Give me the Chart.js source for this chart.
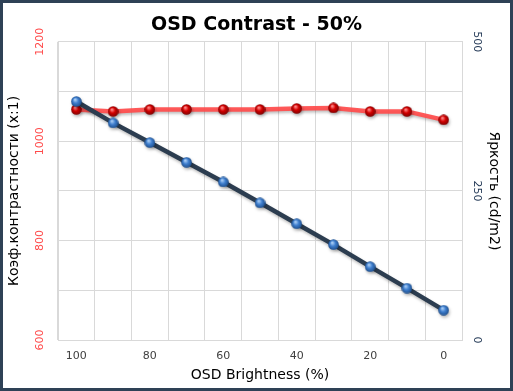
<!DOCTYPE html>
<html><head><meta charset="utf-8">
<script src="https://cdn.jsdelivr.net/npm/chart.js@4/dist/chart.umd.min.js"></script>
<style>
html,body{margin:0;padding:0;background:#fff;}
#frame{width:513px;height:391px;box-sizing:border-box;border:3px solid #2e4156;background:#fff;}
canvas{display:block;}
</style></head>
<body><div id="frame"><canvas id="c" width="507" height="385"></canvas></div>
<script>
const categories = ['100','90','80','70','60','50','40','30','20','10','0'];
const contrast = [1064, 1060, 1064, 1064, 1064, 1064, 1066, 1067, 1060, 1060, 1043];
const brightness = [400, 364, 331, 298, 265, 230, 195, 160, 123, 87, 50];
const leftTicks = [600, 800, 1000, 1200];
const rightTicks = [0, 250, 500];

const FONT = "'DejaVu Sans', Verdana, sans-serif";

function sphere(c1, c2, c3){
  const s = 11, cv = document.createElement('canvas');
  cv.width = s; cv.height = s;
  const g = cv.getContext('2d');
  const grad = g.createRadialGradient(s*0.38, s*0.32, 0.5, s/2, s/2, s/2);
  grad.addColorStop(0, c1); grad.addColorStop(0.45, c2); grad.addColorStop(1, c3);
  g.fillStyle = grad; g.beginPath(); g.arc(s/2, s/2, s/2-0.2, 0, Math.PI*2); g.fill();
  return cv;
}
const redDot = sphere('#ff8a8a', '#d40000', '#7a0000');
const blueDot = sphere('#a9cdf5', '#3f7fcf', '#1d4d8a');

const rotLabels = {
  id: 'rotLabels',
  afterDraw(chart){
    const ctx = chart.ctx;
    const draw = (scale, list, x, ang, color) => {
      ctx.save();
      ctx.font = '11px ' + FONT;
      ctx.fillStyle = color;
      ctx.textAlign = 'center'; ctx.textBaseline = 'middle';
      list.forEach(v => {
        const y = scale.getPixelForValue(v);
        ctx.save(); ctx.translate(x, y); ctx.rotate(ang); ctx.fillText(String(v), 0, 0); ctx.restore();
      });
      ctx.restore();
    };
    draw(chart.scales.y, leftTicks, 37, -Math.PI/2, '#ff4a4a');
    draw(chart.scales.y1, rightTicks, 474, Math.PI/2, '#1f3553');
  }
};
const shadow = {
  id: 'shadow',
  beforeDatasetsDraw(chart){ const c = chart.ctx; c.save(); c.shadowColor='rgba(0,0,0,0.28)'; c.shadowBlur=3; c.shadowOffsetX=1; c.shadowOffsetY=2; },
  afterDatasetsDraw(chart){ chart.ctx.restore(); }
};

new Chart(document.getElementById('c'), {
  type: 'line',
  data: {
    labels: categories,
    datasets: [
      { label: 'Яркость', data: brightness, yAxisID: 'y1', borderColor: '#2c3d50', borderWidth: 4.5,
        pointStyle: blueDot, pointRadius: 6, pointHoverRadius: 6, tension: 0 },
      { label: 'Контраст', data: contrast, yAxisID: 'y', borderColor: 'rgba(255,75,75,0.92)', borderWidth: 4.5,
        pointStyle: redDot, pointRadius: 6, pointHoverRadius: 6, tension: 0 }
    ]
  },
  options: {
    responsive: false, animation: false, events: [],
    layout: { padding: 0 },
    plugins: {
      legend: { display: false }, tooltip: { enabled: false },
      title: { display: true, text: 'OSD Contrast - 50%', color: '#000',
        font: { family: FONT, size: 19, weight: 'bold', lineHeight: 1.2 }, padding: { top: 11, bottom: 5 } }
    },
    scales: {
      x: {
        type: 'category', offset: true,
        grid: { color: '#d9d9d9', offset: true, drawTicks: false },
        border: { color: '#d9d9d9' },
        ticks: { autoSkip: false, maxRotation: 0, minRotation: 0, padding: 10, color: '#404040',
          font: { family: FONT, size: 11 },
          callback: (v, i) => (i % 2 === 0 ? categories[i] : '') },
        title: { display: true, text: 'OSD Brightness (%)', color: '#000',
          font: { family: FONT, size: 14 }, padding: { top: 0, bottom: 4 } },
        afterFit: s => { s.height = 48; }
      },
      y: {
        position: 'left', min: 600, max: 1200,
        grid: { color: '#d9d9d9', drawTicks: false },
        border: { color: '#d9d9d9' },
        ticks: { stepSize: 100, display: false },
        title: { display: true, text: 'Коэф.контрастности (x:1)', color: '#000',
          font: { family: FONT, size: 14 }, padding: 3 },
        afterFit: s => { s.width = 55; }
      },
      y1: {
        position: 'right', min: 0, max: 500,
        grid: { drawOnChartArea: false, drawTicks: false },
        border: { color: '#d9d9d9' },
        ticks: { stepSize: 250, display: false },
        title: { display: true, text: 'Яркость (cd/m2)', color: '#000',
          font: { family: FONT, size: 14 }, padding: 8 },
        afterFit: s => { s.width = 48; }
      }
    }
  },
  plugins: [rotLabels, shadow]
});
</script></body></html>
